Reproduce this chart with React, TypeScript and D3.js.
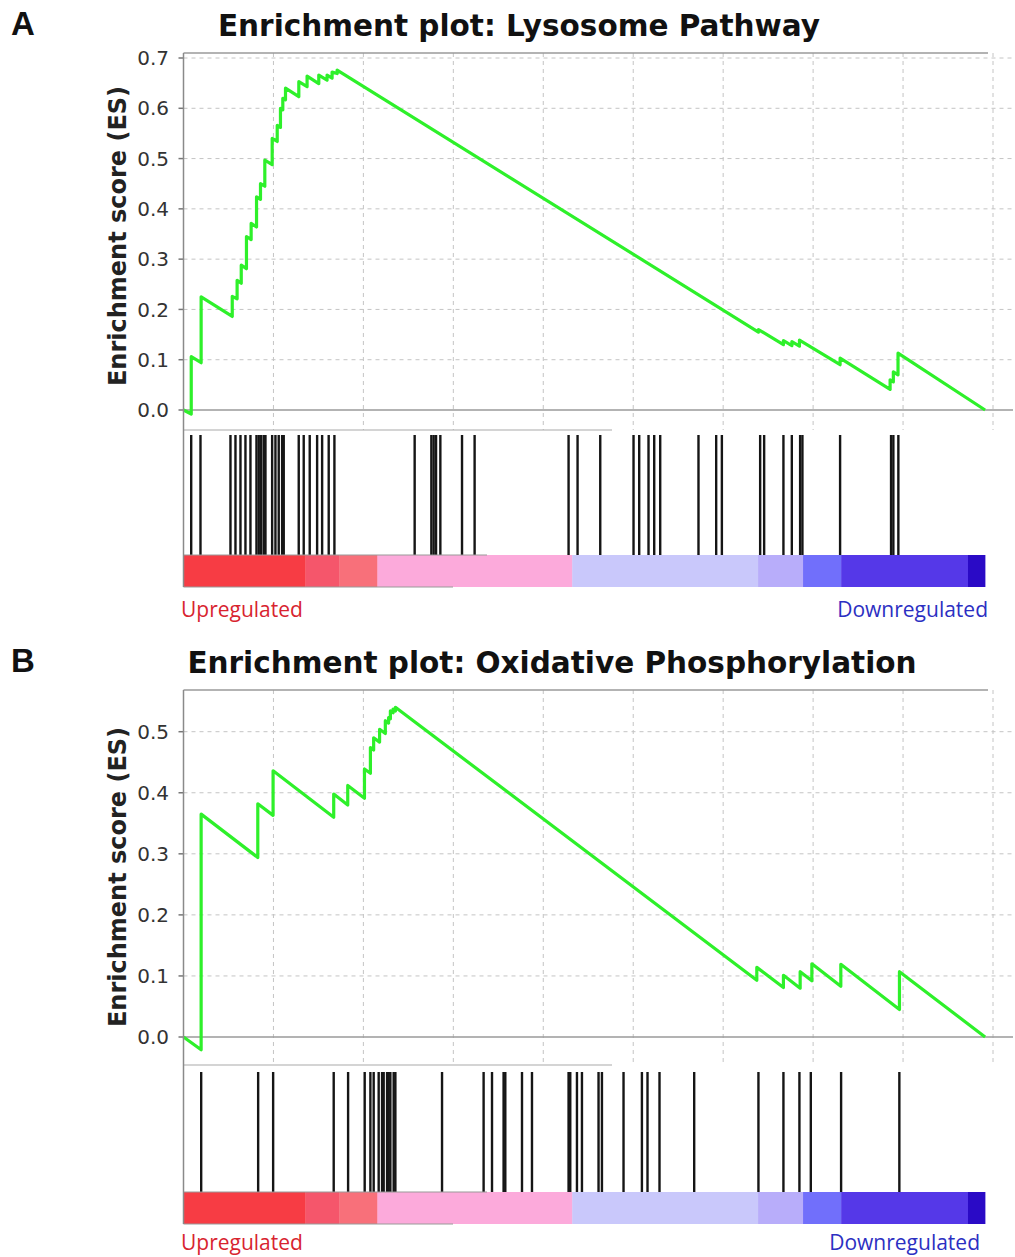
import React from 'react';
import * as d3 from 'd3';

// ---------- DATA ----------
const RANK_MAX = 45000;
const rankTicks = [5000, 10000, 15000, 20000, 25000, 30000, 35000, 40000, 45000];

const lysoYTicks = [0, 0.1, 0.2, 0.3, 0.4, 0.5, 0.6, 0.7];
const oxphosYTicks = [0, 0.1, 0.2, 0.3, 0.4, 0.5];

// running enrichment score: [rank, ES]
const lysoES: [number, number][] = [
  [0, 0.0],
  [430, -0.008], [430, 0.106],
  [980, 0.094], [980, 0.225],
  [2710, 0.186], [2710, 0.226],
  [2980, 0.221], [2980, 0.258],
  [3210, 0.252], [3210, 0.288],
  [3500, 0.281], [3500, 0.345],
  [3760, 0.339], [3760, 0.371],
  [4060, 0.364], [4060, 0.424],
  [4280, 0.419], [4280, 0.45],
  [4520, 0.445], [4520, 0.497],
  [4930, 0.488], [4930, 0.54],
  [5210, 0.534], [5210, 0.566],
  [5390, 0.562], [5390, 0.6],
  [5520, 0.597], [5520, 0.62],
  [5670, 0.617], [5670, 0.64],
  [6410, 0.623], [6410, 0.653],
  [6870, 0.643], [6870, 0.664],
  [7520, 0.649], [7520, 0.666],
  [7980, 0.656], [7980, 0.666],
  [8260, 0.66], [8260, 0.672],
  [8540, 0.669], [8540, 0.676],
  [31960, 0.155], [31960, 0.16],
  [33350, 0.13], [33350, 0.138],
  [33820, 0.128], [33820, 0.136],
  [34240, 0.127], [34240, 0.139],
  [36500, 0.09], [36500, 0.103],
  [39280, 0.041], [39280, 0.06],
  [39460, 0.056], [39460, 0.076],
  [39720, 0.07], [39720, 0.113],
  [44560, 0.0],
];

const oxphosES: [number, number][] = [
  [0, 0.0],
  [980, -0.021], [980, 0.365],
  [4130, 0.294], [4130, 0.382],
  [4980, 0.363], [4980, 0.436],
  [8350, 0.36], [8350, 0.398],
  [9130, 0.38], [9130, 0.412],
  [10060, 0.391], [10060, 0.439],
  [10390, 0.432], [10390, 0.474],
  [10570, 0.47], [10570, 0.49],
  [10900, 0.483], [10900, 0.504],
  [11220, 0.497], [11220, 0.518],
  [11400, 0.514], [11400, 0.523],
  [11500, 0.521], [11500, 0.534],
  [11650, 0.531], [11650, 0.537],
  [11780, 0.534], [11780, 0.54],
  [31870, 0.093], [31870, 0.114],
  [33350, 0.081], [33350, 0.101],
  [34280, 0.08], [34280, 0.107],
  [34930, 0.092], [34930, 0.12],
  [36540, 0.083], [36540, 0.119],
  [39800, 0.045], [39800, 0.107],
  [44560, 0.0],
];

// gene-set hit positions (rank)
const lysoHits = [
  428, 944, 2611, 2889, 3167, 3444, 3722, 4056, 4183, 4317, 4461, 4556, 4928, 5111,
  5294, 5483, 5572, 6406, 6683, 7017, 7428, 7706, 8072, 8389, 12850, 13778, 13906,
  14039, 14278, 15483, 16183, 21406, 21906, 23167, 25017, 25333, 25850, 26167, 26500,
  28628, 29611, 29928, 32056, 32278, 33350, 33817, 34278, 34406, 36500, 39333, 39461, 39739,
];
const oxphosHits = [
  983, 4150, 4983, 8350, 9150, 10072, 10389, 10572, 10850, 11039, 11128, 11317, 11406,
  11500, 11683, 11778, 14372, 16683, 17150, 17794, 17889, 18817, 19372, 21406, 21500,
  21872, 22150, 23072, 23261, 24461, 25483, 25794, 26461, 28389, 31961, 33350, 34239,
  34872, 36556, 39794,
];

// ranked-list colour bar
const colorBreaks = [0, 6780, 8670, 10780, 21610, 31940, 34440, 36560, 43610, 44560];
const colorBarColors = [
  '#f73c44', '#f5566b', '#f8707a', '#fcaadb', '#c9c8fb', '#b8adfa', '#716ffb', '#5538e8', '#2a0ac6',
];

// ---------- LAYOUT ----------
const X0 = 183.5;
const X1 = 993;

interface PanelLayout {
  letter: string;
  title: string;
  titleX: number;
  titleY: number;
  titleSize: number;
  plotTop: number;
  y0: number;
  yMaxPx: number;
  yMax: number;
  esBottom: number;
  hitTop: number;
  hitBottom: number;
  barBottom: number;
  labelY: number;
  downRight: number;
  yTitleCenter: number;
}

const x = d3.scaleLinear().domain([0, RANK_MAX]).range([X0, X1]);

function Panel({ L, es, hits, yTicks }: { L: PanelLayout; es: [number, number][]; hits: number[]; yTicks: number[] }) {
  const y = d3.scaleLinear().domain([0, L.yMax]).range([L.y0, L.yMaxPx]);
  const line = d3.line<[number, number]>().x((d) => x(d[0])).y((d) => y(d[1]));
  const grid = '#c4c4c4';
  return (
    <g>
      <text x={11} y={L.titleY - 1} fontFamily="Liberation Sans, Arial, sans-serif" fontWeight="bold" fontSize={33} fill="#111">
        {L.letter}
      </text>
      <text x={L.titleX} y={L.titleY} textAnchor="middle" fontFamily="DejaVu Sans, Verdana, sans-serif" fontWeight="bold" fontSize={L.titleSize} fill="#111">
        {L.title}
      </text>
      {/* vertical grid */}
      {rankTicks.map((t) => (
        <line key={'v' + t} x1={x(t)} x2={x(t)} y1={L.plotTop} y2={L.esBottom} stroke={grid} strokeDasharray="4,4" strokeWidth={1} />
      ))}
      {/* horizontal grid */}
      {yTicks.filter((t) => t !== 0).map((t) => (
        <line key={'h' + t} x1={X0} x2={1013} y1={y(t)} y2={y(t)} stroke={grid} strokeDasharray="4,4" strokeWidth={1} />
      ))}
      {/* zero line */}
      <line x1={X0} x2={1013} y1={y(0)} y2={y(0)} stroke="#9a9a9a" strokeWidth={1.5} />
      {/* top border */}
      <line x1={X0} x2={988} y1={L.plotTop} y2={L.plotTop} stroke="#9a9a9a" strokeWidth={1.5} />
      {/* hit area top */}
      <line x1={X0} x2={612} y1={L.esBottom} y2={L.esBottom} stroke="#aaaaaa" strokeWidth={1.2} />
      {/* y ticks and labels */}
      {yTicks.map((t) => (
        <g key={'t' + t}>
          <line x1={X0 - 5} x2={X0} y1={y(t)} y2={y(t)} stroke="#777" strokeWidth={1.5} />
          <text x={169} y={y(t)} dy="0.36em" textAnchor="end" fontFamily="DejaVu Sans, Verdana, sans-serif" fontSize={20} fill="#333">
            {t.toFixed(1)}
          </text>
        </g>
      ))}
      <text
        transform={`translate(126,${L.yTitleCenter}) rotate(-90)`}
        textAnchor="middle"
        fontFamily="DejaVu Sans, Verdana, sans-serif"
        fontWeight="bold"
        fontSize={24}
        fill="#222"
      >
        Enrichment score (ES)
      </text>
      {/* ES curve */}
      <path d={line(es) || ''} fill="none" stroke="#2ef02a" strokeWidth={3.2} strokeLinejoin="round" />
      {/* hits */}
      {hits.map((h, i) => (
        <line key={'k' + i} x1={x(h)} x2={x(h)} y1={L.hitTop} y2={L.hitBottom} stroke="#151515" strokeWidth={2.4} />
      ))}
      {/* colour bar */}
      {colorBarColors.map((c, i) => (
        <rect
          key={'c' + i}
          x={x(colorBreaks[i])}
          y={L.hitBottom}
          width={x(colorBreaks[i + 1]) - x(colorBreaks[i]) + 0.3}
          height={L.barBottom - L.hitBottom}
          fill={c}
        />
      ))}
      <line x1={X0} x2={487} y1={L.hitBottom} y2={L.hitBottom} stroke="#999" strokeWidth={1} />
      <line x1={X0} x2={453} y1={L.barBottom} y2={L.barBottom} stroke="#999" strokeWidth={1.2} />
      {/* left axis */}
      <line x1={X0} x2={X0} y1={L.plotTop} y2={L.barBottom} stroke="#8a8a8a" strokeWidth={1.5} />
      <text x={181} y={L.labelY} fontFamily="Open Sans, Lato, sans-serif" fontSize={21} fill="#d8232f">
        Upregulated
      </text>
      <text x={L.downRight} y={L.labelY} textAnchor="end" fontFamily="Open Sans, Lato, sans-serif" fontSize={21} fill="#2c2fc2">
        Downregulated
      </text>
    </g>
  );
}

const layoutA: PanelLayout = {
  letter: 'A',
  title: 'Enrichment plot: Lysosome Pathway',
  titleX: 519,
  titleY: 36,
  titleSize: 29.5,
  plotTop: 53,
  y0: 410,
  yMaxPx: 58,
  yMax: 0.7,
  esBottom: 430,
  hitTop: 435,
  hitBottom: 555,
  barBottom: 587,
  labelY: 617,
  downRight: 988,
  yTitleCenter: 236,
};

const layoutB: PanelLayout = {
  letter: 'B',
  title: 'Enrichment plot: Oxidative Phosphorylation',
  titleX: 552,
  titleY: 673,
  titleSize: 29.5,
  plotTop: 690,
  y0: 1037,
  yMaxPx: 731.7,
  yMax: 0.5,
  esBottom: 1065,
  hitTop: 1072,
  hitBottom: 1192,
  barBottom: 1224,
  labelY: 1250,
  downRight: 980,
  yTitleCenter: 877,
};

export default function App() {
  return (
    <svg
      width={1015}
      height={1257}
      viewBox="0 0 1015 1257"
      style={{ position: 'absolute', left: 0, top: 0, background: '#fff' }}
    >
      <rect x={0} y={0} width={1015} height={1257} fill="#fff" />
      <Panel L={layoutA} es={lysoES} hits={lysoHits} yTicks={lysoYTicks} />
      <Panel L={layoutB} es={oxphosES} hits={oxphosHits} yTicks={oxphosYTicks} />
    </svg>
  );
}
